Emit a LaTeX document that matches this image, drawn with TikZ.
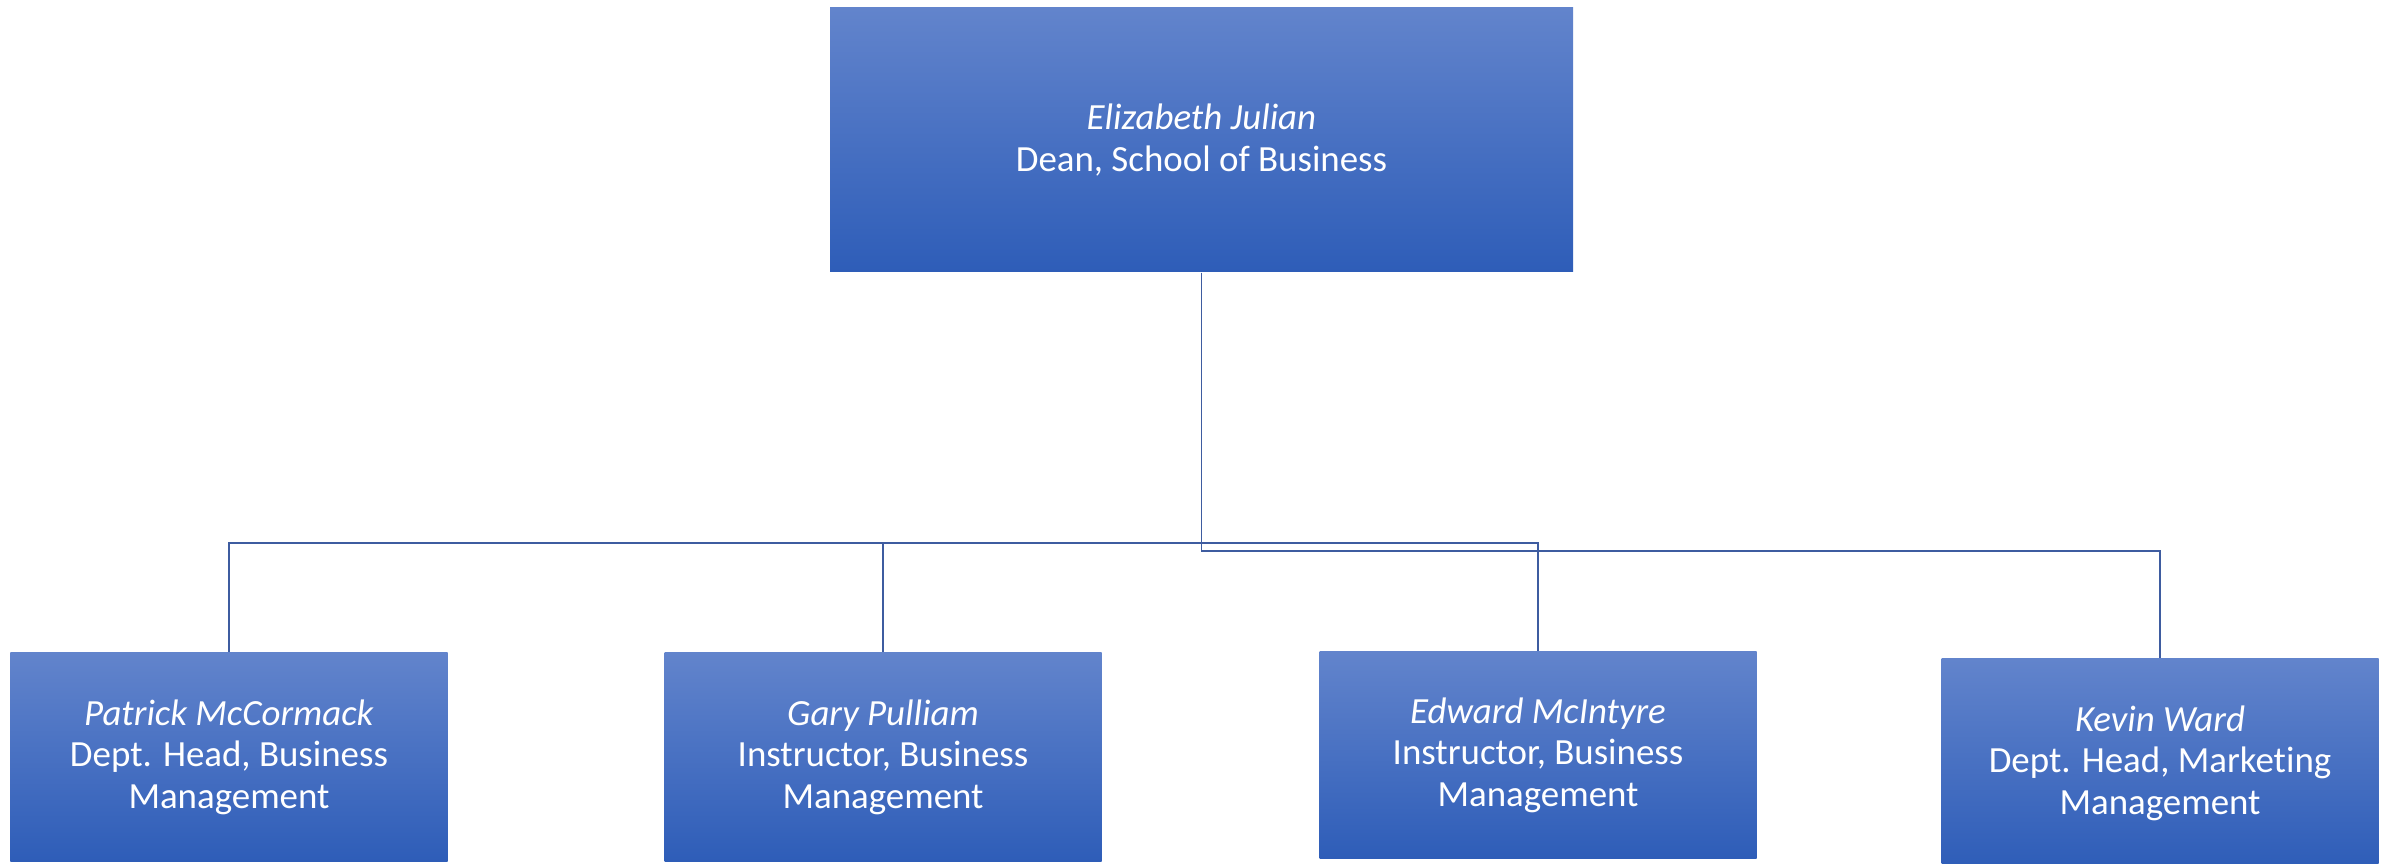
\documentclass[tikz,border=0pt]{standalone}
\usepackage{fontspec}
\setmainfont{Carlito}[RawFeature=-liga]
\definecolor{boxtop}{RGB}{98,132,204}
\definecolor{boxbot}{RGB}{46,93,184}
\definecolor{linkblue}{RGB}{62,92,160}
\begin{document}
\begin{tikzpicture}[every node/.style={font=\fontsize{10.5}{11.8}\selectfont, text=white, align=center},
  person/.style={rectangle, top color=boxtop, bottom color=boxbot, inner sep=0pt, minimum width=4.37cm, minimum height=2.09cm},
  conn/.style={draw=linkblue, line width=0.45pt}]
\useasboundingbox (0,0) rectangle (23.93,8.63);
% Dean
\node[person, minimum width=7.43cm, minimum height=2.64cm] (dean) at (12.015,7.23) {\textit{Elizabeth Julian}\\Dean, School of Business};
% Staff row
\node[person] (patrick) at (2.29,1.06) {\textit{Patrick McCormack}\\Dept. Head, Business\\Management};
\node[person] (gary) at (8.83,1.06) {\textit{Gary Pulliam}\\Instructor, Business\\Management};
\node[person, minimum height=2.07cm] (edward) at (15.38,1.08) {\textit{Edward McIntyre}\\Instructor, Business\\Management};
\node[person] (kevin) at (21.60,1.00) {\textit{Kevin Ward}\\Dept. Head, Marketing\\Management};
% Connectors
\coordinate (bar) at (dean.south |- 0,3.20);
\coordinate (bark) at (dean.south |- 0,3.12);
\draw[conn] (dean.south) -- (bar) -| (patrick.north);
\draw[conn] (bar) -| (gary.north);
\draw[conn] (bar) -| (edward.north);
\draw[conn] (dean.south) -- (bark) -| (kevin.north);
\end{tikzpicture}
\end{document}
